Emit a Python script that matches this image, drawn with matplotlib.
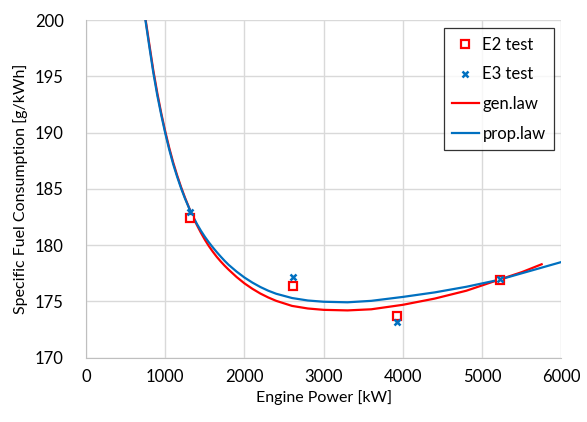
import matplotlib
matplotlib.use("Agg")
from matplotlib import pyplot as plt

plt.rcParams['font.family'] = ['Lato', 'DejaVu Sans']

# measured test points
test_power = [1310, 2615, 3920, 5225]
e2_sfc = [182.4, 176.4, 173.7, 176.9]
e3_sfc = [182.9, 177.2, 173.2, 177.0]

# curves
gen_power = [740, 800, 850, 900, 950, 1000, 1050, 1100, 1150, 1200, 1250, 1300,
             1350, 1400, 1450, 1500, 1550, 1600, 1650, 1700, 1750, 1800, 1900,
             2000, 2100, 2200, 2300, 2400, 2600, 2800, 3000, 3300, 3600, 4000,
             4400, 4800, 5200, 5500, 5750]
gen_sfc = [200.6, 197.8, 195.5, 193.5, 191.7, 190.1, 188.65, 187.35, 186.2, 185.15,
           184.2, 183.33, 182.52, 181.78, 181.1, 180.48, 179.92, 179.42, 178.96,
           178.55, 178.17, 177.82, 177.17, 176.6, 176.12, 175.7, 175.35, 175.05,
           174.6, 174.37, 174.25, 174.2, 174.3, 174.7, 175.25, 175.95, 176.9,
           177.6, 178.3]

prop_power = [735, 800, 850, 900, 950, 1000, 1050, 1100, 1150, 1200, 1250, 1300,
              1350, 1400, 1450, 1500, 1550, 1600, 1650, 1700, 1750, 1800, 1900,
              2000, 2100, 2200, 2300, 2400, 2600, 2800, 3000, 3300, 3600, 4000,
              4400, 4800, 5200, 5600, 6000]
prop_sfc = [200.7, 197.6, 195.3, 193.3, 191.55, 189.95, 188.5, 187.2, 186.08, 185.05,
            184.13, 183.3, 182.55, 181.88, 181.28, 180.74, 180.25, 179.8, 179.38,
            178.98, 178.6, 178.25, 177.65, 177.12, 176.67, 176.28, 175.95, 175.68,
            175.3, 175.08, 174.97, 174.92, 175.05, 175.4, 175.8, 176.3, 176.9,
            177.7, 178.5]

red = '#ff0000'
blue = '#0070c0'

fig = plt.figure(figsize=(5.87, 4.22), dpi=100)
ax = fig.add_axes([0.1465, 0.1524, 0.81, 0.8002])

ax.plot(test_power, e2_sfc, linestyle='none', marker='s', markersize=6,
        markerfacecolor='white', markeredgecolor=red, markeredgewidth=1.6,
        label='E2 test', zorder=4)
ax.plot(test_power, e3_sfc, linestyle='none', marker='x', markersize=5,
        color=blue, markeredgewidth=1.8, label='E3 test', zorder=5)
ax.plot(gen_power, gen_sfc, color=red, lw=1.6, label='gen.law', zorder=3)
ax.plot(prop_power, prop_sfc, color=blue, lw=1.6, label='prop.law', zorder=3)

ax.set_xlim(0, 6000)
ax.set_ylim(170, 200)
ax.set_xticks(range(0, 6001, 1000))
ax.set_yticks(range(170, 201, 5))
ax.grid(True, color='#d9d9d9', lw=1)
ax.set_axisbelow(True)
for s in ['top', 'right']:
    ax.spines[s].set_visible(False)
for s in ['left', 'bottom']:
    ax.spines[s].set_color('#bfbfbf')
ax.tick_params(length=0, labelsize=12, colors='#000000')
ax.tick_params(axis='x', pad=8)
ax.tick_params(axis='y', pad=16)

ax.set_xlabel('Engine Power [kW]', fontsize=11.5, labelpad=4)
ax.set_ylabel('Specific Fuel Consumption [g/kWh]', fontsize=11.5, labelpad=5)

leg = ax.legend(loc='upper right', bbox_to_anchor=(0.984, 0.975), fontsize=12,
                frameon=True, fancybox=False, handlelength=1.6,
                labelspacing=0.82, borderpad=0.5, handletextpad=0.22,
                borderaxespad=0)
leg.get_frame().set_edgecolor('black')
leg.get_frame().set_linewidth(0.9)

fig.savefig('out.png', dpi=100)
